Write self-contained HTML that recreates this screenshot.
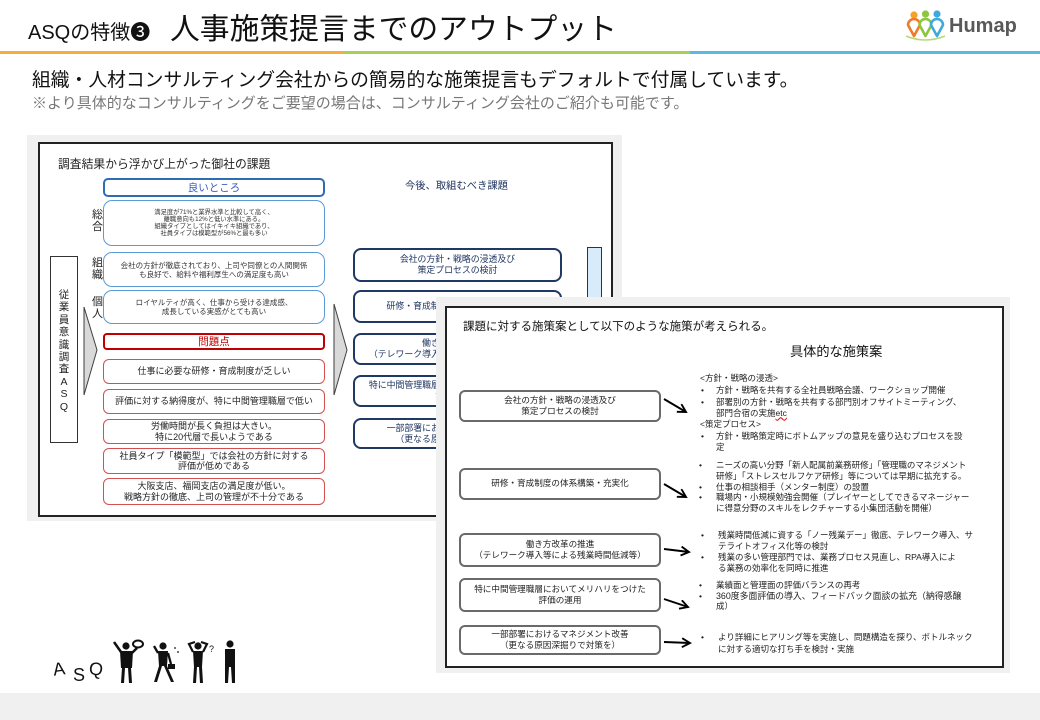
<!DOCTYPE html>
<html><head><meta charset="utf-8">
<style>
*{margin:0;padding:0;box-sizing:border-box}
body{width:1040px;height:720px;overflow:hidden;background:#fff;font-family:"Liberation Sans","Noto Sans CJK JP",sans-serif;color:#222}
#w{position:relative;width:1040px;height:720px;overflow:hidden;background:#fff}
.a{position:absolute;white-space:nowrap}
.bx{position:absolute;display:flex;flex-direction:column;justify-content:center;align-items:center;text-align:center;white-space:nowrap;background:#fff}
.gb{left:103px;width:222px;border:1.5px solid #5b9bd5;border-radius:9px;color:#333;font-size:7.5px;line-height:9px}
.pb{left:103px;width:222px;border:1.3px solid #d25050;border-radius:6px;color:#222;font-size:9px;line-height:10.5px}
.nb{left:353px;width:209px;border:2.5px solid #1f3864;border-radius:8px;color:#1f3460;font-size:8.9px;line-height:11px}
.rb{left:459px;width:202px;border:2px solid #6a6a6a;border-radius:6px;color:#222;font-size:8.6px;line-height:11.5px}
.l{position:absolute;white-space:nowrap;font-size:8.5px;line-height:11px;color:#222}
.vt{position:absolute;left:50px;width:28px;text-align:center;font-size:10.5px;line-height:12.4px;color:#222}
</style></head><body><div id="w">

<!-- Header -->
<div class="a" style="left:28px;top:20px;font-size:20px;line-height:26px;color:#111">ASQの特徴❸</div>
<div class="a" style="left:170px;top:11px;font-size:29.8px;line-height:38px;color:#111">人事施策提言までのアウトプット</div>
<div class="a" style="left:0;top:51px;width:343px;height:3px;background:#f4ae3d"></div>
<div class="a" style="left:343px;top:51px;width:347px;height:3px;background:#a9cf54"></div>
<div class="a" style="left:690px;top:51px;width:350px;height:3px;background:#5bb8de"></div>

<svg class="a" style="left:900px;top:6px" width="50" height="40" viewBox="900 6 50 40">
  <circle cx="914" cy="15" r="3.6" fill="#f5a12a"/>
  <circle cx="925.5" cy="14" r="3.6" fill="#8dc63f"/>
  <circle cx="937" cy="14" r="3.6" fill="#3fa9dd"/>
  <path d="M908 25 A6 6 0 0 1 920 25 L914 36 Z" fill="#fff" stroke="#ee7a2a" stroke-width="2.6" stroke-linejoin="round"/>
  <path d="M919.5 25 A6 6 0 0 1 931.5 25 L925.5 36 Z" fill="#fff" stroke="#8dc63f" stroke-width="2.6" stroke-linejoin="round"/>
  <path d="M931 25 A6 6 0 0 1 943 25 L937 36 Z" fill="#fff" stroke="#3fa9dd" stroke-width="2.6" stroke-linejoin="round"/>
  <path d="M906 36 Q925 44 945 36" fill="none" stroke="#b7d77a" stroke-width="1.5"/>
</svg>
<div class="a" style="left:949px;top:14px;font-size:20px;line-height:24px;font-weight:bold;color:#595959">Humap</div>

<!-- Subtitle -->
<div class="a" style="left:32px;top:68px;font-size:18.8px;line-height:24px;color:#111">組織・人材コンサルティング会社からの簡易的な施策提言もデフォルトで付属しています。</div>
<div class="a" style="left:32px;top:94px;font-size:15px;line-height:20px;color:#777">※より具体的なコンサルティングをご要望の場合は、コンサルティング会社のご紹介も可能です。</div>

<!-- Left panel -->
<div class="a" style="left:27px;top:135px;width:595px;height:386px;background:#f0f0f0"></div>
<div class="a" style="left:38px;top:142px;width:575px;height:375px;border:2px solid #222;background:#fff"></div>
<div class="a" style="left:58px;top:156px;font-size:11.8px;line-height:16px;color:#222">調査結果から浮かび上がった御社の課題</div>

<div class="a" style="left:92px;top:209px;font-size:11px;line-height:12px;color:#222">総<br>合</div>
<div class="a" style="left:92px;top:257px;font-size:11px;line-height:12px;color:#222">組<br>織</div>
<div class="a" style="left:92px;top:296px;font-size:11px;line-height:12px;color:#222">個<br>人</div>

<div class="bx" style="left:103px;top:178px;width:222px;height:19px;border:2px solid #2e6db4;border-radius:5px;color:#3a5bbf;font-size:10.5px;line-height:12px">良いところ</div>
<div class="bx gb" style="top:200px;height:46px;font-size:6.3px;line-height:7px">満足度が71%と業界水準と比較して高く、<br>離職意向も12%と低い水準にある。<br>組織タイプとしてはイキイキ組織であり、<br>社員タイプは模範型が56%と最も多い</div>
<div class="bx gb" style="top:252px;height:35px">会社の方針が徹底されており、上司や同僚との人間関係<br>も良好で、給料や福利厚生への満足度も高い</div>
<div class="bx gb" style="top:290px;height:34px">ロイヤルティが高く、仕事から受ける達成感、<br>成長している実感がとても高い</div>

<div class="bx" style="left:103px;top:333px;width:222px;height:17px;border:2px solid #c00000;border-radius:4px;color:#c00000;font-size:10.5px;line-height:12px">問題点</div>
<div class="bx pb" style="top:359px;height:25px">仕事に必要な研修・育成制度が乏しい</div>
<div class="bx pb" style="top:389px;height:25px">評価に対する納得度が、特に中間管理職層で低い</div>
<div class="bx pb" style="top:419px;height:25px">労働時間が長く負担は大きい。<br>特に20代層で長いようである</div>
<div class="bx pb" style="top:448px;height:26px">社員タイプ「模範型」では会社の方針に対する<br>評価が低めである</div>
<div class="bx pb" style="top:478px;height:27px">大阪支店、福岡支店の満足度が低い。<br>戦略方針の徹底、上司の管理が不十分である</div>

<div class="a" style="left:50px;top:256px;width:28px;height:187px;border:1px solid #333;background:#fff"></div>
<div class="vt" style="top:289px">従<br>業<br>員<br>意<br>識<br>調<br>査<br>A<br>S<br>Q</div>

<div class="a" style="left:405px;top:180px;font-size:10.3px;line-height:14px;color:#1f3460">今後、取組むべき課題</div>
<div class="bx nb" style="top:248px;height:34px">会社の方針・戦略の浸透及び<br>策定プロセスの検討</div>
<div class="bx nb" style="top:290px;height:33px">研修・育成制度の体系構築・充実化</div>
<div class="bx nb" style="top:333px;height:32px">働き方改革の推進<br>（テレワーク導入等による残業時間低減等）</div>
<div class="bx nb" style="top:375px;height:32px">特に中間管理職層においてメリハリをつけた<br>評価の運用</div>
<div class="bx nb" style="top:418px;height:31px">一部部署におけるマネジメント改善<br>（更なる原因深掘りで対策を）</div>

<div class="a" style="left:587px;top:247px;width:15px;height:70px;border:1px solid #333;background:#d7ebfb"></div>

<svg class="a" style="left:0;top:0" width="1040" height="720">
  <polygon points="84,307 97,350 84,395" fill="#d9d9d9" stroke="#404040" stroke-width="1"/>
  <polygon points="334,304 347,350 334,395" fill="#d9d9d9" stroke="#404040" stroke-width="1"/>
</svg>

<!-- Right panel -->
<div class="a" style="left:436px;top:297px;width:574px;height:376px;background:#f0f0f0"></div>
<div class="a" style="left:445px;top:306px;width:559px;height:362px;border:2px solid #222;background:#fff"></div>
<div class="a" style="left:463px;top:320px;font-size:11.5px;line-height:15px;color:#111">課題に対する施策案として以下のような施策が考えられる。</div>
<div class="a" style="left:790px;top:343px;font-size:13.2px;line-height:17px;color:#111">具体的な施策案</div>

<div class="bx rb" style="top:390px;height:32px">会社の方針・戦略の浸透及び<br>策定プロセスの検討</div>
<div class="bx rb" style="top:468px;height:32px">研修・育成制度の体系構築・充実化</div>
<div class="bx rb" style="top:533px;height:34px">働き方改革の推進<br>（テレワーク導入等による残業時間低減等）</div>
<div class="bx rb" style="top:578px;height:34px">特に中間管理職層においてメリハリをつけた<br>評価の運用</div>
<div class="bx rb" style="top:625px;height:30px">一部部署におけるマネジメント改善<br>（更なる原因深掘りで対策を）</div>

<!-- block 1 -->
<div class="l" style="left:700px;top:372.5px">&lt;方針・戦略の浸透&gt;</div>
<div class="l" style="left:701px;top:384.5px">•</div><div class="l" style="left:716px;top:384.5px">方針・戦略を共有する全社員戦略会議、ワークショップ開催</div>
<div class="l" style="left:701px;top:396.5px">•</div><div class="l" style="left:716px;top:396.5px">部署別の方針・戦略を共有する部門別オフサイトミーティング、</div>
<div class="l" style="left:716px;top:407.5px">部門合宿の実施<span style="text-decoration:underline wavy #e00000;text-decoration-thickness:1px">etc</span></div>
<div class="l" style="left:700px;top:418.5px">&lt;策定プロセス&gt;</div>
<div class="l" style="left:701px;top:430.5px">•</div><div class="l" style="left:716px;top:430.5px">方針・戦略策定時にボトムアップの意見を盛り込むプロセスを設</div>
<div class="l" style="left:716px;top:441.5px">定</div>

<!-- block 2 -->
<div class="l" style="left:699px;top:460px">•</div><div class="l" style="left:716px;top:460px">ニーズの高い分野「新人配属前業務研修」「管理職のマネジメント</div>
<div class="l" style="left:716px;top:470.8px">研修」「ストレスセルフケア研修」等については早期に拡充する。</div>
<div class="l" style="left:699px;top:481.6px">•</div><div class="l" style="left:716px;top:481.6px">仕事の相談相手（メンター制度）の設置</div>
<div class="l" style="left:699px;top:492.4px">•</div><div class="l" style="left:716px;top:492.4px">職場内・小規模勉強会開催（プレイヤーとしてできるマネージャー</div>
<div class="l" style="left:716px;top:503.2px">に得意分野のスキルをレクチャーする小集団活動を開催）</div>

<!-- block 3 -->
<div class="l" style="left:701px;top:529.5px">•</div><div class="l" style="left:718px;top:529.5px">残業時間低減に資する「ノー残業デー」徹底、テレワーク導入、サ</div>
<div class="l" style="left:718px;top:540.5px">テライトオフィス化等の検討</div>
<div class="l" style="left:701px;top:551.5px">•</div><div class="l" style="left:718px;top:551.5px">残業の多い管理部門では、業務プロセス見直し、RPA導入によ</div>
<div class="l" style="left:718px;top:562.5px">る業務の効率化を同時に推進</div>

<!-- block 4 -->
<div class="l" style="left:699px;top:580px">•</div><div class="l" style="left:716px;top:580px">業績面と管理面の評価バランスの再考</div>
<div class="l" style="left:699px;top:590.5px">•</div><div class="l" style="left:716px;top:590.5px;font-size:8.9px">360度多面評価の導入、フィードバック面談の拡充（納得感醸</div>
<div class="l" style="left:716px;top:601px">成）</div>

<!-- block 5 -->
<div class="l" style="left:701px;top:631.5px">•</div><div class="l" style="left:718px;top:631.5px">より詳細にヒアリング等を実施し、問題構造を探り、ボトルネック</div>
<div class="l" style="left:718px;top:643.5px">に対する適切な打ち手を検討・実施</div>

<svg class="a" style="left:0;top:0" width="1040" height="720">
  <defs>
    <marker id="ah" markerUnits="userSpaceOnUse" markerWidth="12" markerHeight="12" refX="9" refY="5" orient="auto">
      <path d="M1,0.5 L9,5 L1,9.5" fill="none" stroke="#000" stroke-width="1.9"/>
    </marker>
  </defs>
  <g stroke="#000" stroke-width="1.9" fill="none" marker-end="url(#ah)">
    <line x1="664" y1="399" x2="686" y2="412"/>
    <line x1="664" y1="484" x2="686" y2="497"/>
    <line x1="664" y1="549" x2="689" y2="552"/>
    <line x1="664" y1="599" x2="688" y2="607"/>
    <line x1="664" y1="642" x2="690" y2="643"/>
  </g>
</svg>

<!-- ASQ figures -->
<div class="a" style="left:53px;top:659px;font-size:18px;line-height:20px;color:#111;transform:rotate(-8deg)">A</div>
<div class="a" style="left:73px;top:665px;font-size:18px;line-height:20px;color:#111">S</div>
<div class="a" style="left:89px;top:659px;font-size:18px;line-height:20px;color:#111;transform:rotate(8deg)">Q</div>
<svg class="a" style="left:0;top:0" width="1040" height="720">
  <g fill="#111" stroke="#111">
    <circle cx="126" cy="646" r="3.6" stroke="none"/>
    <path d="M120 651 L133 651 L132 668 L121 668 Z" stroke="none"/>
    <path d="M122 668 L125 668 L124 683 L121 683 Z M128 668 L131 668 L132 683 L129 683 Z" stroke="none"/>
    <line x1="121" y1="652" x2="114" y2="642" stroke-width="2.5"/>
    <line x1="132" y1="653" x2="137" y2="648" stroke-width="2.5"/>
    <ellipse cx="138" cy="644" rx="5" ry="3.5" fill="none" stroke-width="2"/>
    <circle cx="163" cy="646" r="3.6" stroke="none"/>
    <path d="M158 651 L168 651 L167 666 L159 666 Z" stroke="none"/>
    <path d="M159 666 L162 666 L157 682 L154 682 Z M164 666 L167 666 L174 682 L171 682 Z" stroke="none"/>
    <line x1="158" y1="653" x2="154" y2="646" stroke-width="2.3"/>
    <line x1="168" y1="653" x2="171" y2="664" stroke-width="2.3"/>
    <rect x="168" y="664" width="7" height="5" stroke="none"/>
    <circle cx="175" cy="648" r="0.9" stroke="none"/>
    <circle cx="178" cy="652" r="0.9" stroke="none"/>
    <circle cx="198" cy="646" r="3.6" stroke="none"/>
    <path d="M193 651 L203 651 L202 667 L194 667 Z" stroke="none"/>
    <path d="M194 667 L197 667 L196 683 L193 683 Z M199 667 L202 667 L203 683 L200 683 Z" stroke="none"/>
    <path d="M193 652 L189 644 L195 642" fill="none" stroke-width="2.2"/>
    <path d="M203 652 L207 644 L201 642" fill="none" stroke-width="2.2"/>
    <circle cx="230" cy="644" r="3.6" stroke="none"/>
    <path d="M225 649 L235 649 L235 667 L225 667 Z" stroke="none"/>
    <path d="M225 667 L229 667 L228 683 L225 683 Z M231 667 L235 667 L235 683 L232 683 Z" stroke="none"/>
  </g>
  <text x="209" y="652" font-family="Liberation Sans" font-size="9" fill="#111">?</text>
</svg>

<div class="a" style="left:0;top:693px;width:1040px;height:27px;background:#f0f0f0"></div>
</div></body></html>
